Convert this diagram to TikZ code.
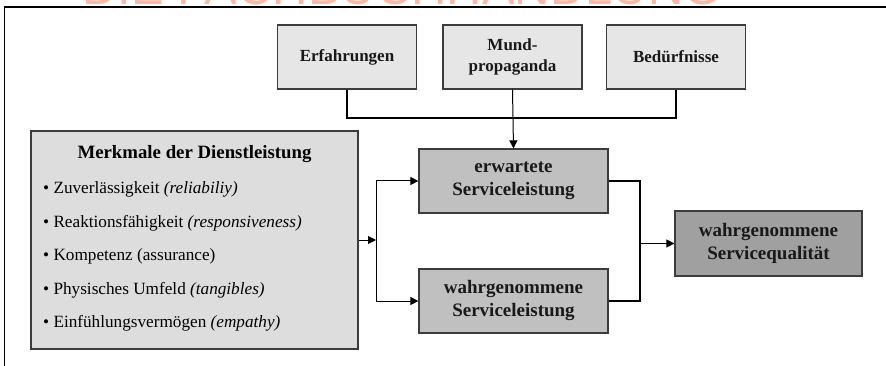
\documentclass[tikz,border=0pt]{standalone}
\usepackage{fontspec}
\setmainfont{Liberation Serif}
\newfontfamily\wmfont{Liberation Sans}
\usetikzlibrary{positioning, arrows.meta}

\definecolor{wmpink}{RGB}{252,184,164}
\definecolor{topfill}{RGB}{230,230,230}
\definecolor{merkfill}{RGB}{221,221,221}
\definecolor{servfill}{RGB}{192,192,192}
\definecolor{qualfill}{RGB}{160,160,160}
\definecolor{boxline}{RGB}{60,60,60}

\tikzset{
	box/.style={draw=boxline,line width=1.2pt,inner sep=0pt,align=center,text=black!90},
	topbox/.style={box,fill=topfill,minimum width=139pt,minimum height=64pt,font=\bfseries\fontsize{17}{20.5}\selectfont},
	servbox/.style={box,fill=servfill,minimum width=189pt,minimum height=64pt,font=\bfseries\fontsize{19}{23}\selectfont},
	qualbox/.style={box,fill=qualfill,minimum width=187pt,minimum height=65pt,font=\bfseries\fontsize{19}{23}\selectfont},
	arrowline/.style={line width=1pt,-{Triangle[length=8pt,width=8pt]}},
	plainline/.style={line width=1.1pt}
}

\begin{document}
\begin{tikzpicture}[x=1pt,y=-1pt]
	\useasboundingbox (0,0) rectangle (886,366);
	
	% watermark, cut at the top
	\node[anchor=base,text=wmpink,font=\wmfont\fontsize{49}{50}\selectfont] (wm) at (402,5) {DIE FACHBUCHHANDLUNG};
	
	% frame
	\draw[line width=1.6pt] (4,7) -- (886,7);
	\draw[line width=0.8pt] (4,7) -- (4,366);
	
	\node[topbox] (erf) at (347,57) {Erfahrungen};
	\node[topbox] (mund) at (512.5,57) {Mund-\\propaganda};
	\node[topbox] (bed) at (676,57) {Bedürfnisse};
	
	\node[servbox] (erw) at (513.5,181) {erwartete\\Serviceleistung};
	\node[servbox] (wsl) at (513.5,301) {wahrgenommene\\Serviceleistung};
	\node[qualbox] (wsq) at (768.5,243.5) {wahrgenommene\\Servicequalität};
	
	\node[box,fill=merkfill,minimum width=327pt,minimum height=218pt] (merk) at (194.5,240) {};
	\node[anchor=base,font=\bfseries\fontsize{18.8}{22}\selectfont] (merktitle) at (194.5,159) {Merkmale der Dienstleistung};
	\foreach \txt [count=\i from 0] in {Zuverlässigkeit \textit{(reliabiliy)},
			Reaktionsfähigkeit \textit{(responsiveness)},
			Kompetenz (assurance),
			Physisches Umfeld \textit{(tangibles)},
			Einfühlungsvermögen \textit{(empathy)}}
		\node[anchor=base west,inner sep=0pt,font=\fontsize{17.2}{20}\selectfont] (item\i) at (43,194+33.4*\i) {• \txt};
	
	% connectors
	\coordinate (join) at (512.5,118);
	\draw[plainline] (erf.south) -- (erf.south |- join) -- (bed.south |- join) -- (bed.south);
	\draw[arrowline] (mund.south) -- (erw.north);
	
	\coordinate (split) at (376,240);
	\draw[arrowline] (merk.east) -- (split);
	\draw[arrowline] (split) |- (erw.west);
	\draw[arrowline] (split) |- (wsl.west);
	
	\coordinate (merge) at (640,243.5);
	\draw[plainline] (erw.east) -| (merge);
	\draw[plainline] (wsl.east) -| (merge);
	\draw[arrowline] (merge) -- (wsq.west);
\end{tikzpicture}
\end{document}
